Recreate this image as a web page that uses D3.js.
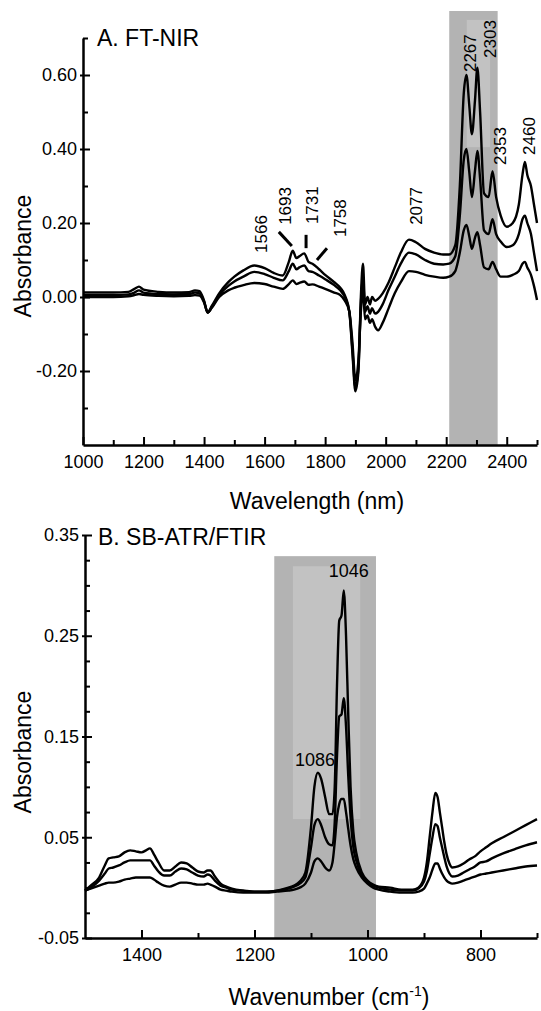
<!DOCTYPE html>
<html><head><meta charset="utf-8">
<script src="https://cdn.jsdelivr.net/npm/d3@7"></script>
<style>
body{margin:0;background:#fff}
svg{display:block}
text{font-family:"Liberation Sans",Arial,Helvetica,sans-serif;fill:#000}
</style>
</head><body>
<svg id="chart" width="541" height="1011"></svg>
<script>
// ---------- Panel A: FT-NIR ----------
const nirWavelength = [1000,1050,1100,1150,1170,1185,1200,1250,1300,1350,1370,1385,1400,1412,1425,1450,1480,1500,1530,1566,1600,1630,1660,1680,1693,1705,1715,1731,1745,1758,1780,1800,1830,1850,1865,1880,1890,1900,1910,1918,1925,1932,1940,1948,1955,1965,1975,1990,2010,2030,2050,2077,2100,2130,2160,2190,2210,2230,2245,2258,2267,2276,2285,2295,2303,2312,2325,2340,2353,2365,2380,2400,2420,2440,2452,2460,2468,2480,2490,2500];
const nirHigh = [0.012,0.012,0.012,0.014,0.022,0.028,0.02,0.014,0.012,0.013,0.018,0.016,-0.01,-0.042,-0.025,0.01,0.04,0.055,0.072,0.085,0.078,0.065,0.058,0.095,0.125,0.105,0.11,0.118,0.095,0.09,0.075,0.06,0.04,0.025,0.005,-0.04,-0.15,-0.255,-0.2,0.0,0.09,-0.02,0.0,-0.02,0.0,-0.01,-0.005,0.01,0.04,0.08,0.12,0.155,0.148,0.13,0.12,0.115,0.115,0.14,0.3,0.55,0.6,0.52,0.44,0.53,0.62,0.5,0.28,0.27,0.34,0.27,0.22,0.19,0.2,0.25,0.33,0.365,0.33,0.3,0.25,0.2];
const nirMid = [0.005,0.005,0.005,0.007,0.012,0.018,0.012,0.008,0.007,0.008,0.012,0.01,-0.012,-0.042,-0.028,0.005,0.03,0.042,0.055,0.068,0.062,0.052,0.045,0.07,0.09,0.075,0.08,0.085,0.07,0.068,0.058,0.048,0.032,0.018,0.0,-0.04,-0.14,-0.245,-0.19,-0.02,0.05,-0.04,-0.025,-0.045,-0.03,-0.045,-0.04,-0.02,0.02,0.055,0.09,0.12,0.115,0.1,0.09,0.088,0.09,0.11,0.22,0.37,0.4,0.34,0.27,0.34,0.395,0.32,0.18,0.17,0.21,0.17,0.15,0.135,0.14,0.17,0.21,0.22,0.2,0.17,0.12,0.07];
const nirLow = [0.0,0.0,0.0,0.002,0.005,0.008,0.006,0.003,0.002,0.003,0.005,0.004,-0.015,-0.042,-0.03,0.0,0.018,0.025,0.032,0.038,0.035,0.028,0.022,0.035,0.045,0.035,0.038,0.042,0.033,0.034,0.028,0.022,0.012,0.005,-0.01,-0.04,-0.12,-0.225,-0.17,-0.04,0.02,-0.06,-0.05,-0.07,-0.06,-0.08,-0.09,-0.07,-0.03,0.01,0.04,0.07,0.068,0.06,0.055,0.052,0.055,0.07,0.12,0.18,0.195,0.165,0.13,0.16,0.175,0.14,0.08,0.075,0.095,0.075,0.055,0.055,0.06,0.07,0.09,0.095,0.08,0.06,0.03,-0.008];
const nirMajorTicksX = [1000,1200,1400,1600,1800,2000,2200,2400];
const nirMinorTicksX = [1100,1300,1500,1700,1900,2100,2300,2500];
const nirMajorTicksY = [-0.2,0.0,0.2,0.4,0.6];
const nirMinorTicksY = [-0.3,-0.1,0.1,0.3,0.5,0.7];
const nirBand = [2210, 2370];          // shaded band (nm)
const nirBandInner = [2268, 2345];     // lighter label box (nm)
const nirPeakLabels = ["1566","1693","1731","1758","2077","2267","2303","2353","2460"];
const nirPeakLabelAt = [[1588,0.119],[1667,0.195],[1757,0.197],[1849,0.162],[2100,0.195],[2278,0.608],[2345,0.646],[2378,0.357],[2474,0.384]];
const nirLeaders = [[[1647,0.176],[1690,0.138]],[[1737,0.168],[1737,0.132]],[[1806,0.132],[1773,0.100]]];

// ---------- Panel B: SB-ATR/FTIR ----------
const atrWavenumber = [1500,1490,1475,1465,1458,1450,1440,1430,1420,1410,1400,1392,1385,1378,1370,1360,1350,1340,1330,1320,1310,1300,1290,1283,1278,1270,1260,1250,1240,1220,1200,1180,1160,1140,1130,1120,1110,1100,1094,1088,1082,1075,1068,1062,1058,1054,1050,1046,1042,1038,1034,1030,1025,1020,1010,1000,990,980,960,940,920,910,900,895,890,885,880,876,872,868,864,860,855,850,840,830,820,810,800,790,780,760,740,720,700];
const atrHigh = [-0.003,0.002,0.01,0.022,0.029,0.03,0.031,0.035,0.037,0.036,0.035,0.037,0.039,0.033,0.025,0.017,0.017,0.021,0.025,0.024,0.02,0.016,0.015,0.017,0.017,0.011,0.004,0.001,-0.001,-0.003,-0.004,-0.004,-0.003,0.0,0.002,0.006,0.015,0.06,0.1,0.114,0.108,0.09,0.073,0.073,0.1,0.2,0.265,0.27,0.295,0.25,0.17,0.1,0.055,0.035,0.015,0.007,0.003,0.001,0.0,-0.002,-0.002,0.0,0.01,0.025,0.05,0.075,0.094,0.09,0.075,0.06,0.045,0.033,0.024,0.02,0.021,0.024,0.028,0.031,0.036,0.04,0.044,0.05,0.056,0.062,0.068];
const atrMid = [-0.003,0.0,0.007,0.014,0.019,0.02,0.022,0.025,0.027,0.027,0.027,0.027,0.027,0.022,0.016,0.012,0.012,0.016,0.019,0.018,0.015,0.012,0.011,0.013,0.012,0.007,0.002,0.0,-0.002,-0.003,-0.004,-0.004,-0.003,-0.001,0.001,0.004,0.01,0.04,0.062,0.068,0.062,0.05,0.043,0.042,0.065,0.13,0.17,0.172,0.188,0.16,0.11,0.07,0.04,0.027,0.012,0.005,0.002,0.0,-0.002,-0.003,-0.003,-0.001,0.006,0.016,0.033,0.05,0.063,0.061,0.05,0.04,0.03,0.021,0.014,0.011,0.012,0.015,0.018,0.021,0.025,0.026,0.029,0.034,0.038,0.042,0.045];
const atrLow = [-0.003,-0.001,0.002,0.004,0.005,0.005,0.006,0.008,0.009,0.01,0.01,0.01,0.01,0.008,0.005,0.002,0.001,0.003,0.005,0.005,0.004,0.003,0.003,0.004,0.003,0.001,-0.002,-0.003,-0.004,-0.005,-0.005,-0.005,-0.004,-0.003,-0.002,0.0,0.004,0.015,0.026,0.029,0.026,0.02,0.017,0.025,0.045,0.07,0.083,0.088,0.088,0.075,0.058,0.042,0.028,0.02,0.01,0.004,0.0,-0.002,-0.004,-0.005,-0.005,-0.004,-0.001,0.004,0.01,0.018,0.024,0.024,0.019,0.014,0.01,0.007,0.005,0.004,0.005,0.007,0.009,0.011,0.013,0.014,0.015,0.017,0.019,0.021,0.022];
const atrMajorTicksX = [1400,1200,1000,800];
const atrMinorTicksX = [1300,1100,900,700];
const atrMajorTicksY = [-0.05,0.05,0.15,0.25,0.35];
const atrMinorTicksY = [-0.025,0.0,0.025,0.075,0.1,0.125,0.175,0.2,0.225,0.275,0.3,0.325];
const atrBand = [1165, 985];
const atrBandInner = [1132, 1013];
const atrPeakLabels = ["1086","1046"];
const atrPeakLabelAt = [[1093,0.127],[1033,0.315]];

// ---------- drawing ----------
const svg = d3.select("#chart");
const FONT_TICK = 18, FONT_TITLE = 23;
const fmt2 = d => d3.format(".2f")(d).replace("\u2212","-");

function panel(cfg){
  const g = svg.append("g");
  const x = d3.scaleLinear().domain(cfg.xDomain).range(cfg.xRange);
  const y = d3.scaleLinear().domain(cfg.yDomain).range(cfg.yRange);
  const [x0,x1] = cfg.xRange, [yb,yt] = cfg.yRange;

  g.append("rect").attr("x", x(cfg.band[0])).attr("width", x(cfg.band[1]) - x(cfg.band[0]))
    .attr("y", y(cfg.bandTop)).attr("height", yb - y(cfg.bandTop)).attr("fill", "#b3b3b3");
  g.append("rect").attr("x", x(cfg.bandInner[0])).attr("width", x(cfg.bandInner[1]) - x(cfg.bandInner[0]))
    .attr("y", y(cfg.innerTop)).attr("height", y(cfg.innerBottom) - y(cfg.innerTop)).attr("fill", "#c2c2c2");

  const line = d3.line().x(d => x(d[0])).y(d => y(d[1])).curve(d3.curveMonotoneX);
  cfg.series.forEach(s => {
    g.append("path").datum(cfg.xs.map((v,i) => [v, s[i]]))
      .attr("d", line).attr("fill","none").attr("stroke","#000")
      .attr("stroke-width",2.4).attr("stroke-linejoin","round");
  });

  const gx = g.append("g").attr("transform",`translate(0,${yb})`);
  gx.call(d3.axisBottom(x).tickValues(cfg.xMajor).tickSize(-8).tickSizeOuter(0).tickPadding(10).tickFormat(d3.format("d")));
  const gx2 = g.append("g").attr("transform",`translate(0,${yb})`);
  gx2.call(d3.axisBottom(x).tickValues(cfg.xMinor).tickSize(-5).tickSizeOuter(0).tickFormat(""));
  gx2.select(".domain").remove();
  const gy = g.append("g").attr("transform",`translate(${x0},0)`);
  gy.call(d3.axisLeft(y).tickValues(cfg.yMajor).tickSize(-7).tickSizeOuter(0).tickPadding(6).tickFormat(fmt2));
  gy.selectAll(".tick line").attr("x1",-3);
  const gy2 = g.append("g").attr("transform",`translate(${x0},0)`);
  gy2.call(d3.axisLeft(y).tickValues(cfg.yMinor).tickSize(-5).tickSizeOuter(0).tickFormat(""));
  gy2.select(".domain").remove();
  [gx,gx2,gy,gy2].forEach(a => {
    a.selectAll(".tick line").attr("stroke","#000").attr("stroke-width",2);
    a.selectAll(".domain").attr("stroke","#000").attr("stroke-width",2.5);
    a.selectAll("text").attr("font-size",FONT_TICK).attr("font-family",'"Liberation Sans",Arial,sans-serif');
  });

  g.append("text").attr("x", cfg.titlePos[0]).attr("y", cfg.titlePos[1])
    .attr("font-size", FONT_TITLE).text(cfg.title);
  g.append("text").attr("transform",`translate(${cfg.yLabelPos[0]},${cfg.yLabelPos[1]}) rotate(-90)`)
    .attr("text-anchor","middle").attr("font-size",FONT_TITLE).text("Absorbance");
  const xl = g.append("text").attr("x", cfg.xLabelPos[0]).attr("y", cfg.xLabelPos[1])
    .attr("text-anchor","middle").attr("font-size",FONT_TITLE);
  cfg.xLabel(xl);

  return {g,x,y};
}

const A = panel({
  xs: nirWavelength, series: [nirHigh, nirMid, nirLow],
  xDomain:[1000,2500], xRange:[83,537], yDomain:[-0.4,0.7], yRange:[445,38],
  xMajor:nirMajorTicksX, xMinor:nirMinorTicksX, yMajor:nirMajorTicksY, yMinor:nirMinorTicksY,
  band:nirBand, bandTop:0.773, bandInner:nirBandInner, innerTop:0.749, innerBottom:0.405,
  title:"A. FT-NIR", titlePos:[97,46], yLabelPos:[31,256], xLabelPos:[317,509],
  xLabel: t => t.text("Wavelength (nm)")
});
nirPeakLabels.forEach((lab,i) => {
  const [px,py] = nirPeakLabelAt[i];
  A.g.append("text").attr("transform",`translate(${A.x(px)},${A.y(py)}) rotate(-90)`)
    .attr("dy","0.36em").attr("font-size",17).text(lab);
});
nirLeaders.forEach(l => {
  A.g.append("line").attr("x1",A.x(l[0][0])).attr("y1",A.y(l[0][1]))
    .attr("x2",A.x(l[1][0])).attr("y2",A.y(l[1][1]))
    .attr("stroke","#000").attr("stroke-width",3);
});

const B = panel({
  xs: atrWavenumber, series: [atrHigh, atrMid, atrLow],
  xDomain:[1500,700], xRange:[85,537], yDomain:[-0.05,0.35], yRange:[938,535],
  xMajor:atrMajorTicksX, xMinor:atrMinorTicksX, yMajor:atrMajorTicksY, yMinor:atrMinorTicksY,
  band:atrBand, bandTop:0.329, bandInner:atrBandInner, innerTop:0.319, innerBottom:0.068,
  title:"B. SB-ATR/FTIR", titlePos:[98,545], yLabelPos:[31,752], xLabelPos:[329,1005],
  xLabel: t => { t.append("tspan").text("Wavenumber (cm");
                 t.append("tspan").attr("font-size",14).attr("dy",-9).text("-1");
                 t.append("tspan").attr("dy",9).text(")"); }
});
atrPeakLabels.forEach((lab,i) => {
  const [px,py] = atrPeakLabelAt[i];
  B.g.append("text").attr("x",B.x(px)).attr("y",B.y(py)).attr("dy","0.36em")
    .attr("text-anchor","middle").attr("font-size",18).text(lab);
});
</script>
</body></html>
